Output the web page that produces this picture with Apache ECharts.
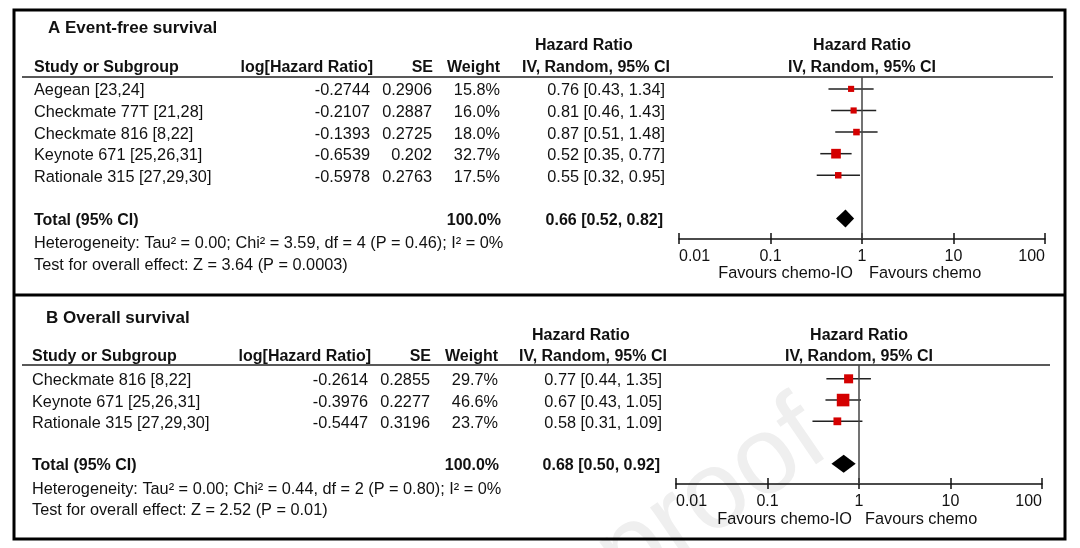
<!DOCTYPE html>
<html>
<head>
<meta charset="utf-8">
<script src="https://cdn.jsdelivr.net/npm/echarts@6/dist/echarts.min.js"></script>
<style>
  html, body { margin: 0; padding: 0; background: #fff; }
  #chart { width: 1080px; height: 548px; }
</style>
</head>
<body>
<div id="chart"></div>
<script>
// A  Event-free survival
const efsStudies = ['Aegean [23,24]', 'Checkmate 77T [21,28]', 'Checkmate 816 [8,22]', 'Keynote 671 [25,26,31]', 'Rationale 315 [27,29,30]']
const efsLogHR = [-0.2744, -0.2107, -0.1393, -0.6539, -0.5978]
const efsSE = [0.2906, 0.2887, 0.2725, 0.202, 0.2763]
const efsWeight = [15.8, 16.0, 18.0, 32.7, 17.5]
const efsHR = [0.76, 0.81, 0.87, 0.52, 0.55]
const efsLow = [0.43, 0.46, 0.51, 0.35, 0.32]
const efsHigh = [1.34, 1.43, 1.48, 0.77, 0.95]
const efsTotal = [0.66, 0.52, 0.82] // HR, low, high
const efsHet = 'Heterogeneity: Tau² = 0.00; Chi² = 3.59, df = 4 (P = 0.46); I² = 0%'
const efsTest = 'Test for overall effect: Z = 3.64 (P = 0.0003)'

// B  Overall survival
const osStudies = ['Checkmate 816 [8,22]', 'Keynote 671 [25,26,31]', 'Rationale 315 [27,29,30]']
const osLogHR = [-0.2614, -0.3976, -0.5447]
const osSE = [0.2855, 0.2277, 0.3196]
const osWeight = [29.7, 46.6, 23.7]
const osHR = [0.77, 0.67, 0.58]
const osLow = [0.44, 0.43, 0.31]
const osHigh = [1.35, 1.05, 1.09]
const osTotal = [0.68, 0.50, 0.92]
const osHet = 'Heterogeneity: Tau² = 0.00; Chi² = 0.44, df = 2 (P = 0.80); I² = 0%'
const osTest = 'Test for overall effect: Z = 2.52 (P = 0.01)'

const axisTicks = [0.01, 0.1, 1, 10, 100]

const FAMILY = '"Liberation Sans", Arial, Helvetica, sans-serif'
const fontReg = '16.3px ' + FAMILY
const fontBold = 'bold 16px ' + FAMILY
const ink = '#111'

let chart = echarts.init(document.getElementById('chart'))

const fmt2 = v => v.toFixed(2)
const ciText = (h, l, u) => fmt2(h) + ' [' + fmt2(l) + ', ' + fmt2(u) + ']'
const squareSize = w => 2.8 + 0.21 * w

let grids = [], xAxes = [], yAxes = [], series = [], graphics = []

function txt(x, y, text, align, font, extra) {
  return Object.assign({
    type: 'text', x: x, y: y, silent: true,
    style: { text: text, font: font || fontReg, fill: ink, align: align || 'left', verticalAlign: 'middle' }
  }, extra || {})
}

function addPanel(i, d, L) {
  grids.push({ left: L.plotLeft, top: L.ruleY, width: L.plotWidth, height: L.axisY - L.ruleY })
  const logAxis = {
    gridIndex: i, type: 'log', logBase: 10, position: 'bottom', splitNumber: 4,
    min: axisTicks[0], max: axisTicks[axisTicks.length - 1],
    splitLine: { show: false }
  }
  xAxes.push(Object.assign({}, logAxis, {
    axisLine: { onZero: false, lineStyle: { color: ink, width: 1.5 } },
    axisTick: { length: 5, lineStyle: { color: ink, width: 1.5 } },
    axisLabel: {
      color: ink, fontSize: 16, fontFamily: FAMILY, margin: 10,
      alignMinLabel: 'left', alignMaxLabel: 'right',
      formatter: v => String(+(+v).toPrecision(2))
    }
  }))
  // second copy of the axis only for the upward half of each tick
  xAxes.push(Object.assign({}, logAxis, {
    axisLine: { show: false, onZero: false },
    axisTick: { inside: true, length: 6, lineStyle: { color: ink, width: 1.5 } },
    axisLabel: { show: false }
  }))
  yAxes.push({ gridIndex: i, type: 'value', inverse: true, min: L.yMin, max: L.yMax, show: false })
  const xi = xAxes.length - 2

  // study rows: CI whisker + weighted square
  series.push({
    type: 'custom', xAxisIndex: xi, yAxisIndex: i, clip: false, silent: true,
    data: d.hr.map((h, k) => [h, k, d.low[k], d.high[k], d.weight[k]]),
    encode: { x: 0, y: 1 },
    renderItem: (params, api) => {
      const row = api.value(1)
      const c = api.coord([api.value(0), row])
      const lo = api.coord([api.value(2), row])
      const hi = api.coord([api.value(3), row])
      const s = squareSize(api.value(4))
      return {
        type: 'group', children: [
          { type: 'line', shape: { x1: lo[0], y1: lo[1], x2: hi[0], y2: hi[1] }, style: { stroke: '#222', lineWidth: 1.5 } },
          { type: 'rect', shape: { x: c[0] - s / 2, y: c[1] - s / 2, width: s, height: s }, style: { fill: '#d40000' } }
        ]
      }
    },
    markLine: {
      silent: true, symbol: 'none', label: { show: false },
      lineStyle: { color: '#444', width: 1.5, type: 'solid' },
      data: [{ xAxis: 1 }]
    }
  })

  // table text for each study row
  series.push({
    type: 'custom', xAxisIndex: xi, yAxisIndex: i, clip: false, silent: true,
    data: d.studies.map((s, k) => [1, k]),
    encode: { x: 0, y: 1 },
    renderItem: (params, api) => {
      const k = params.dataIndex
      const y = api.coord([1, api.value(1)])[1] + 2
      return {
        type: 'group', children: [
          txt(L.colName, y, d.studies[k], 'left'),
          txt(L.colLog, y, String(d.logHR[k]), 'right'),
          txt(L.colSE, y, String(d.se[k]), 'right'),
          txt(L.colW, y, d.weight[k].toFixed(1) + '%', 'right'),
          txt(L.colCI, y, ciText(d.hr[k], d.low[k], d.high[k]), 'right')
        ]
      }
    }
  })

  // pooled estimate
  const wSum = d.weight.reduce((a, b) => a + b, 0)
  series.push({
    type: 'custom', xAxisIndex: xi, yAxisIndex: i, clip: false, silent: true,
    data: [[d.total[0], L.totalRow, d.total[1], d.total[2]]],
    encode: { x: 0, y: 1 },
    renderItem: (params, api) => {
      const row = api.value(1)
      const c = api.coord([api.value(0), row])
      const lo = api.coord([api.value(2), row])
      const hi = api.coord([api.value(3), row])
      const h = 9
      const y = c[1] + 2
      return {
        type: 'group', children: [
          { type: 'polygon', shape: { points: [[lo[0], c[1]], [c[0], c[1] - h], [hi[0], c[1]], [c[0], c[1] + h]] }, style: { fill: '#000' } },
          txt(L.colName, y, 'Total (95% CI)', 'left', fontBold),
          txt(L.colW + 1, y, wSum.toFixed(1) + '%', 'right', fontBold),
          txt(L.colCI - 2, y, ciText(d.total[0], d.total[1], d.total[2]), 'right', fontBold)
        ]
      }
    }
  })

  // titles, headers, rules, footnotes
  graphics.push(
    txt(L.titleX, L.titleY, L.title, 'left', 'bold 17px ' + FAMILY),
    txt(L.hrColX, L.hrHeadY, 'Hazard Ratio', 'left', fontBold),
    txt(L.ivColX, L.colHeadY, 'IV, Random, 95% CI', 'left', fontBold),
    txt(L.plotHeadX, L.hrHeadY, 'Hazard Ratio', 'center', fontBold),
    txt(L.plotHeadX, L.colHeadY, 'IV, Random, 95% CI', 'center', fontBold),
    txt(L.colName, L.colHeadY, 'Study or Subgroup', 'left', fontBold),
    txt(L.colLog + 3, L.colHeadY, 'log[Hazard Ratio]', 'right', fontBold),
    txt(L.colSE + 1, L.colHeadY, 'SE', 'right', fontBold),
    txt(L.colW, L.colHeadY, 'Weight', 'right', fontBold),
    {
      type: 'line', silent: true,
      shape: { x1: L.ruleX1, y1: L.ruleY, x2: L.ruleX2, y2: L.ruleY },
      style: { stroke: '#222', lineWidth: 1.6 }
    },
    txt(L.colName, L.hetY, d.het, 'left'),
    txt(L.colName, L.testY, d.test, 'left'),
    txt(L.favLeftEnd, L.favY, 'Favours chemo-IO', 'right'),
    txt(L.favRightStart, L.favY, 'Favours chemo', 'left')
  )
}

addPanel(0, {
  studies: efsStudies, logHR: efsLogHR, se: efsSE, weight: efsWeight,
  hr: efsHR, low: efsLow, high: efsHigh, total: efsTotal, het: efsHet, test: efsTest
}, {
  title: 'A Event-free survival',
  plotLeft: 679, plotWidth: 366, ruleY: 77, axisY: 239, yMin: -0.55, yMax: 6.95, totalRow: 6,
  colName: 34, colLog: 370, colSE: 432, colW: 500, colCI: 665,
  titleX: 48, titleY: 28, hrHeadY: 46, colHeadY: 68, ruleX1: 22, ruleX2: 1053,
  hrColX: 535, ivColX: 522, plotHeadX: 862,
  hetY: 244, testY: 266, favY: 274, favLeftEnd: 853, favRightStart: 869
})

addPanel(1, {
  studies: osStudies, logHR: osLogHR, se: osSE, weight: osWeight,
  hr: osHR, low: osLow, high: osHigh, total: osTotal, het: osHet, test: osTest
}, {
  title: 'B Overall survival',
  plotLeft: 676, plotWidth: 366, ruleY: 365, axisY: 484, yMin: -0.65, yMax: 4.95, totalRow: 4,
  colName: 32, colLog: 368, colSE: 430, colW: 498, colCI: 662,
  titleX: 46, titleY: 318, hrHeadY: 336, colHeadY: 357, ruleX1: 22, ruleX2: 1050,
  hrColX: 532, ivColX: 519, plotHeadX: 859,
  hetY: 490, testY: 511, favY: 520, favLeftEnd: 852, favRightStart: 865
})

// faint "pre-proof" watermark, drawn first so it sits underneath
graphics.unshift({
  type: 'text', silent: true, z: -10,
  x: 785, y: 382, rotation: 0.6,
  style: { text: 'Journal Pre-proof', font: '110px ' + FAMILY, fill: '#efefef', align: 'right', verticalAlign: 'top' }
})

// outer frame + divider between panels
graphics.push(
  { type: 'rect', silent: true, shape: { x: 14, y: 10, width: 1051, height: 529 }, style: { fill: 'none', stroke: '#000', lineWidth: 3 } },
  { type: 'line', silent: true, shape: { x1: 14, y1: 295, x2: 1065, y2: 295 }, style: { stroke: '#000', lineWidth: 3 } }
)

chart.setOption({
  animation: false,
  backgroundColor: '#fff',
  grid: grids,
  xAxis: xAxes,
  yAxis: yAxes,
  series: series,
  graphic: graphics
})
</script>
</body>
</html>
